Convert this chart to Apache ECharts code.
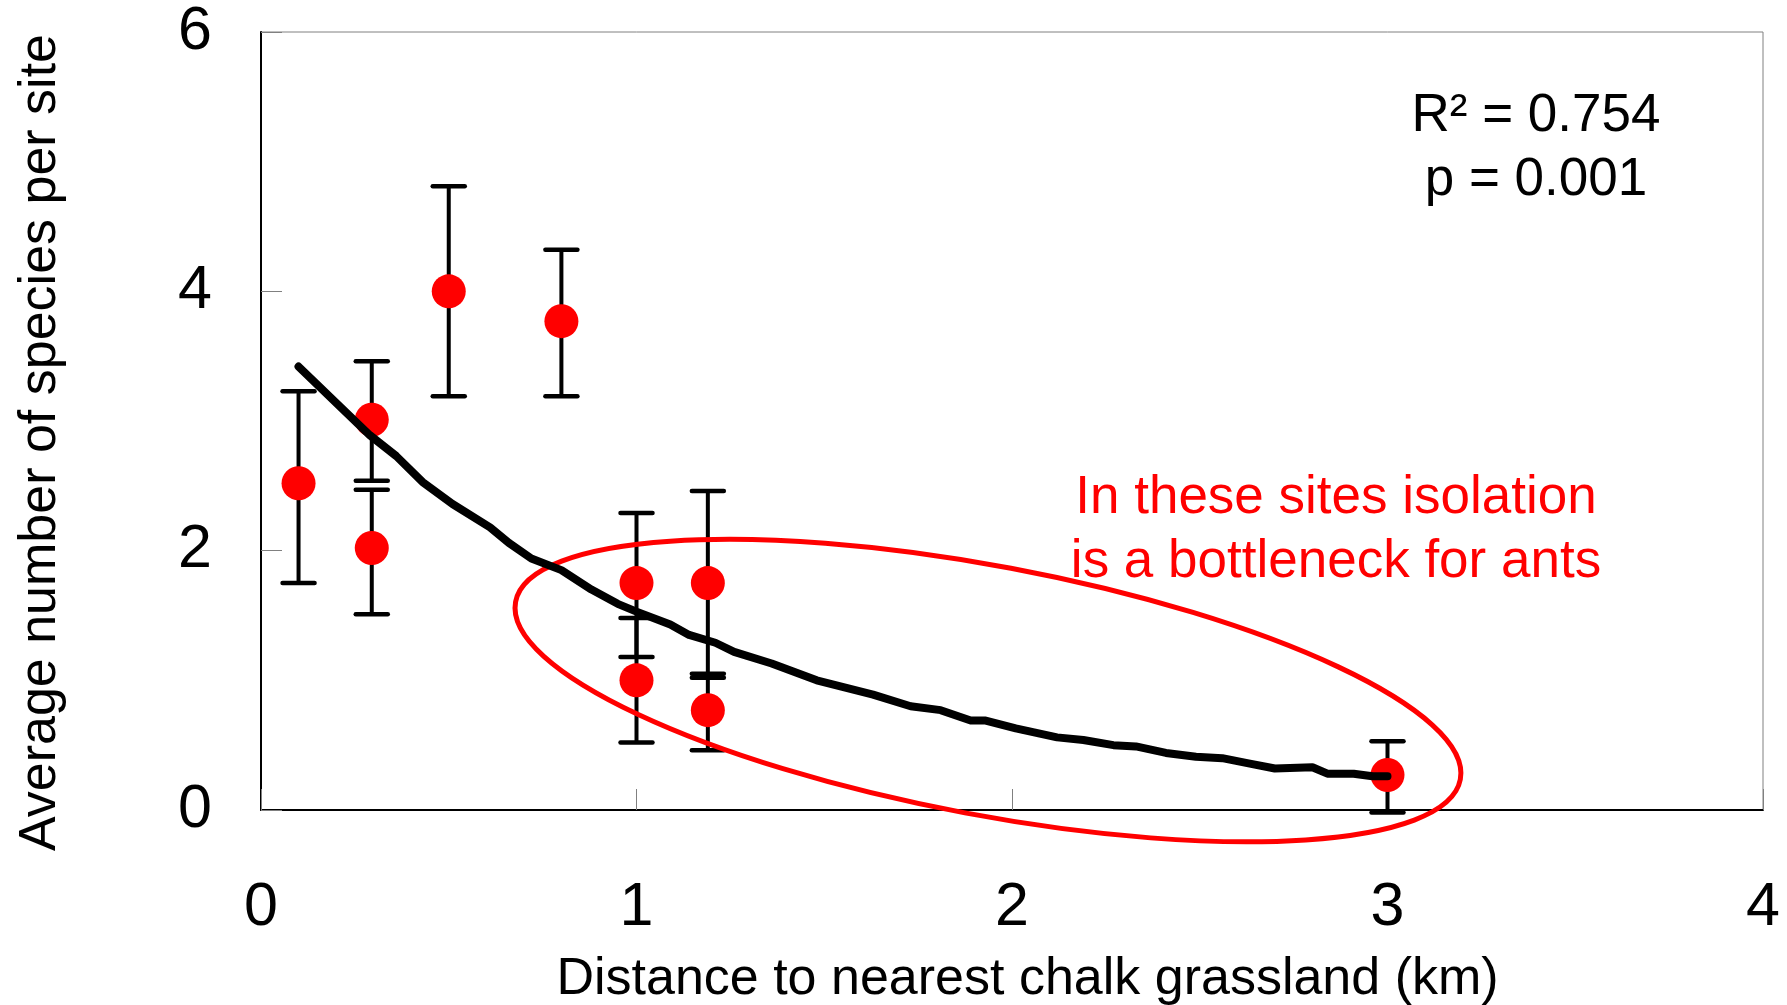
<!DOCTYPE html>
<html>
<head>
<meta charset="utf-8">
<script src="https://cdn.jsdelivr.net/npm/echarts@6/dist/echarts.min.js"></script>
<style>
html,body{margin:0;padding:0;background:#fff;}
#chart{width:1787px;height:1005px;}
</style>
</head>
<body>
<div id="chart"></div>
<script>
// ---- data ----
const siteDistance = [0.1, 0.295, 0.295, 0.5, 0.8, 1.0, 1.0, 1.19, 1.19, 3.0];
const meanSpecies  = [2.52, 3.01, 2.02, 4.0, 3.77, 1.75, 1.0, 1.75, 0.77, 0.27];
const errLower     = [1.75, 2.54, 1.51, 3.19, 3.19, 1.18, 0.52, 1.05, 0.46, -0.02];
const errUpper     = [3.23, 3.46, 2.47, 4.81, 4.32, 2.29, 1.48, 2.46, 1.02, 0.53];

const fitX = [0.10, 0.29, 0.36, 0.43, 0.51, 0.61, 0.66, 0.72, 0.80, 0.88, 0.95, 1.00, 1.09, 1.14, 1.21, 1.26, 1.36, 1.48, 1.63, 1.73, 1.81, 1.89, 1.93, 2.01, 2.12, 2.19, 2.27, 2.33, 2.41, 2.49, 2.56, 2.63, 2.70, 2.80, 2.84, 2.91, 2.96, 3.00];
const fitY = [3.42, 2.89, 2.73, 2.53, 2.36, 2.18, 2.06, 1.94, 1.85, 1.70, 1.59, 1.53, 1.43, 1.35, 1.29, 1.22, 1.13, 1.00, 0.89, 0.80, 0.77, 0.69, 0.69, 0.63, 0.56, 0.54, 0.50, 0.49, 0.44, 0.41, 0.40, 0.36, 0.32, 0.33, 0.28, 0.28, 0.26, 0.26];

const xTicks = [0, 1, 2, 3, 4];
const yTicks = [0, 2, 4, 6];

// annotation ellipse (data units): centre, semi-axes, tilt
const ellipseCenter = [1.936, 0.921];
const ellipseSemi = [1.28, 0.96];
const ellipseTiltDeg = 10.65;

const FONT = '"Liberation Sans", Arial, Helvetica, sans-serif';

const chart = echarts.init(document.getElementById('chart'));

const pointData = siteDistance.map((x, i) => [x, meanSpecies[i]]);
const errData = siteDistance.map((x, i) => [x, errLower[i], errUpper[i]]);
const fitData = fitX.map((x, i) => [x, fitY[i]]);

const option = {
  animation: false,
  backgroundColor: '#ffffff',
  grid: {
    left: 261, top: 32, right: 24, bottom: 195,
    show: true, borderColor: '#808080', borderWidth: 1,
    containLabel: false, outerBoundsMode: 'none'
  },
  xAxis: {
    type: 'value', min: xTicks[0], max: xTicks[xTicks.length - 1], interval: 1,
    axisLine: { show: true, onZero: false, lineStyle: { color: '#000', width: 2 } },
    axisTick: { show: true, inside: true, length: 21, lineStyle: { color: '#808080', width: 1 } },
    axisLabel: { fontSize: 61, color: '#000', margin: 68, fontFamily: FONT },
    splitLine: { show: false },
    name: 'Distance to nearest chalk grassland (km)',
    nameLocation: 'middle', nameGap: 144, nameMoveOverlap: false,
    nameTextStyle: { fontSize: 52, color: '#000', fontFamily: FONT, padding: [0, 0, 0, 31] }
  },
  yAxis: {
    type: 'value', min: yTicks[0], max: yTicks[yTicks.length - 1], interval: 2,
    axisLine: { show: true, onZero: false, lineStyle: { color: '#000', width: 2 } },
    axisTick: { show: true, inside: true, length: 21, lineStyle: { color: '#808080', width: 1 } },
    axisLabel: { fontSize: 61, color: '#000', margin: 49, fontFamily: FONT },
    splitLine: { show: false },
    name: 'Average number of species per site',
    nameLocation: 'middle', nameGap: 194, nameRotate: 90, nameMoveOverlap: false,
    nameTextStyle: { fontSize: 52, color: '#000', fontFamily: FONT, padding: [0, 43, 0, 0] }
  },
  series: [
    {
      type: 'custom', name: 'error', clip: false, z: 2,
      data: errData,
      encode: { x: 0, y: [1, 2] },
      renderItem: function (params, api) {
        const x = api.value(0), lo = api.value(1), hi = api.value(2);
        const t = api.coord([x, hi]);
        const b = api.coord([x, lo]);
        const hw = 16;
        const st = { stroke: '#000', lineWidth: 4.5, lineCap: 'round' };
        return {
          type: 'group',
          children: [
            { type: 'line', shape: { x1: t[0], y1: t[1], x2: b[0], y2: b[1] }, style: { stroke: '#000', lineWidth: 4 } },
            { type: 'line', shape: { x1: t[0] - hw, y1: t[1], x2: t[0] + hw, y2: t[1] }, style: st },
            { type: 'line', shape: { x1: b[0] - hw, y1: b[1], x2: b[0] + hw, y2: b[1] }, style: st }
          ]
        };
      }
    },
    {
      type: 'scatter', name: 'sites', z: 3,
      data: pointData, symbol: 'circle', symbolSize: 34,
      itemStyle: { color: '#ff0000', opacity: 1 }
    },
    {
      type: 'custom', name: 'ellipse', clip: false, z: 4,
      data: [ellipseCenter],
      renderItem: function (params, api) {
        const c = api.coord([api.value(0), api.value(1)]);
        const rx = api.size([ellipseSemi[0], 0])[0];
        const ry = api.size([0, ellipseSemi[1]])[1];
        return {
          type: 'ellipse',
          x: c[0], y: c[1],
          rotation: -ellipseTiltDeg * Math.PI / 180,
          shape: { cx: 0, cy: 0, rx: rx, ry: ry },
          style: { fill: 'none', stroke: '#ff0000', lineWidth: 5 }
        };
      }
    },
    {
      type: 'line', name: 'fit', z: 5,
      data: fitData, showSymbol: false, symbol: 'none', smooth: false,
      lineStyle: { color: '#000', width: 8, cap: 'round', join: 'round' }
    }
  ],
  graphic: [
    {
      type: 'text', x: 1536, y: 84, z: 10,
      style: {
        text: 'R\u00B2 = 0.754\np = 0.001',
        fill: '#000', fontSize: 53, fontFamily: FONT,
        align: 'center', verticalAlign: 'top', lineHeight: 64
      }
    },
    {
      type: 'text', x: 1336, y: 466, z: 10,
      style: {
        text: 'In these sites isolation\nis a bottleneck for ants',
        fill: '#ff0000', fontSize: 53, fontFamily: FONT,
        align: 'center', verticalAlign: 'top', lineHeight: 64
      }
    }
  ]
};

chart.setOption(option);
</script>
</body>
</html>
